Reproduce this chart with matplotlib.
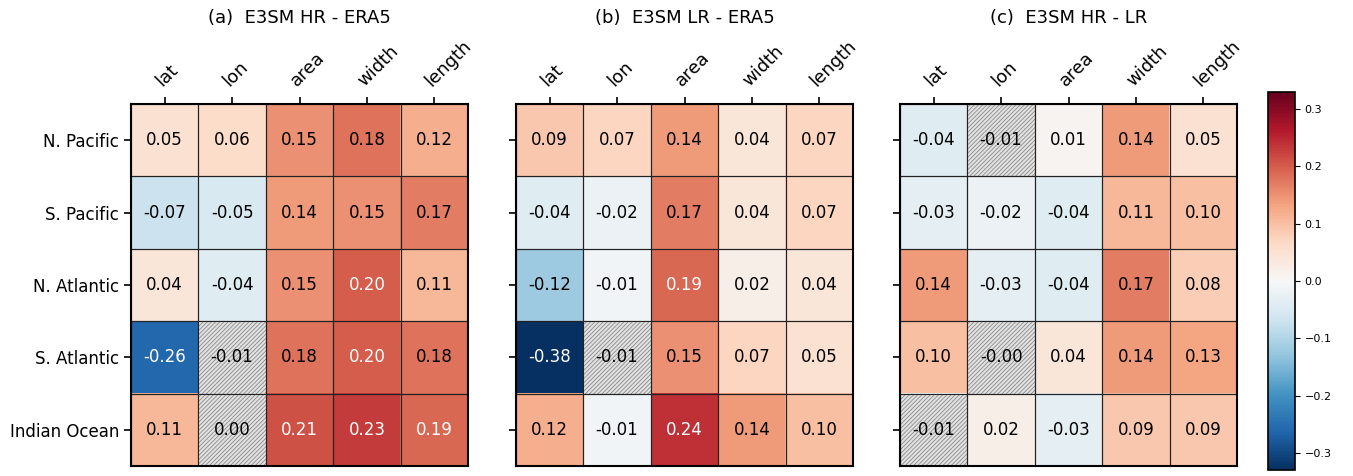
import numpy as np
import matplotlib
matplotlib.use("Agg")
import matplotlib.pyplot as plt
from matplotlib.patches import Rectangle

regions = ["N. Pacific", "S. Pacific", "N. Atlantic", "S. Atlantic", "Indian Ocean"]
metrics = ["lat", "lon", "area", "width", "length"]
titles = ["(a)  E3SM HR - ERA5", "(b)  E3SM LR - ERA5", "(c)  E3SM HR - LR"]

hr_era5 = [[0.05, 0.06, 0.15, 0.18, 0.12],
           [-0.07, -0.05, 0.14, 0.15, 0.17],
           [0.04, -0.04, 0.15, 0.20, 0.11],
           [-0.26, -0.01, 0.18, 0.20, 0.18],
           [0.11, 0.00, 0.21, 0.23, 0.19]]
lr_era5 = [[0.09, 0.07, 0.14, 0.04, 0.07],
           [-0.04, -0.02, 0.17, 0.04, 0.07],
           [-0.12, -0.01, 0.19, 0.02, 0.04],
           [-0.38, -0.01, 0.15, 0.07, 0.05],
           [0.12, -0.01, 0.24, 0.14, 0.10]]
hr_lr = [[-0.04, -0.01, 0.01, 0.14, 0.05],
         [-0.03, -0.02, -0.04, 0.11, 0.10],
         [0.14, -0.03, -0.04, 0.17, 0.08],
         [0.10, -0.001, 0.04, 0.14, 0.13],
         [-0.01, 0.02, -0.03, 0.09, 0.09]]
# non-significant cells (hatched): (row, col)
hatch_a = [(3, 1), (4, 1)]
hatch_b = [(3, 1)]
hatch_c = [(0, 1), (3, 1), (4, 0)]

datasets = [hr_era5, lr_era5, hr_lr]
hatches = [hatch_a, hatch_b, hatch_c]

vlim = 0.33
cmap = plt.get_cmap("RdBu_r")
norm = matplotlib.colors.Normalize(-vlim, vlim)
plt.rcParams["hatch.linewidth"] = 0.6

fig = plt.figure(figsize=(13.53, 4.76), dpi=100)
W, H = 1353, 476
lefts = [131, 516, 900]
aw = 337
top, bot = 104, 466

for k in range(3):
    ax = fig.add_axes([lefts[k] / W, 1 - bot / H, aw / W, (bot - top) / H])
    data = np.array(datasets[k])
    ax.imshow(data, cmap=cmap, norm=norm, aspect="auto")
    for i in range(data.shape[0]):
        for j in range(data.shape[1]):
            v = data[i, j]
            if (i, j) in hatches[k]:
                ax.add_patch(Rectangle((j - 0.5, i - 0.5), 1, 1, facecolor="#e2e2e2",
                                       edgecolor="#8a8a8a", hatch="////////", lw=0))
            ax.add_patch(Rectangle((j - 0.5, i - 0.5), 1, 1, fill=False,
                                   edgecolor="#222222", lw=0.8))
            s = f"{v:.2f}"
            col = "white" if abs(v) >= 0.185 else "black"
            ax.text(j, i, s, ha="center", va="center", fontsize=12, color=col)
    ax.set_xticks(range(5))
    ax.set_xticklabels(metrics, rotation=45, ha="left", rotation_mode="anchor", fontsize=13)
    ax.xaxis.tick_top()
    ax.set_yticks(range(5))
    if k == 0:
        ax.set_yticklabels(regions, fontsize=12)
    else:
        ax.set_yticklabels([])
    ax.tick_params(length=5, width=1.2)
    ax.tick_params(axis="x", pad=5)
    for sp in ax.spines.values():
        sp.set_linewidth(1.5)
    ax.set_xlim(-0.5, 4.5)
    ax.set_ylim(4.5, -0.5)
    fig.text((lefts[k] + aw / 2) / W, 1 - 18 / H, titles[k], ha="center", va="center", fontsize=13)

cax = fig.add_axes([1268 / W, 1 - 470 / H, 27 / W, (470 - 92) / H])
cb = fig.colorbar(matplotlib.cm.ScalarMappable(norm=norm, cmap=cmap), cax=cax)
cb.set_ticks([-0.3, -0.2, -0.1, 0.0, 0.1, 0.2, 0.3])
cb.ax.tick_params(labelsize=8)
cb.outline.set_linewidth(1.2)

fig.savefig("out.png", dpi=100)
